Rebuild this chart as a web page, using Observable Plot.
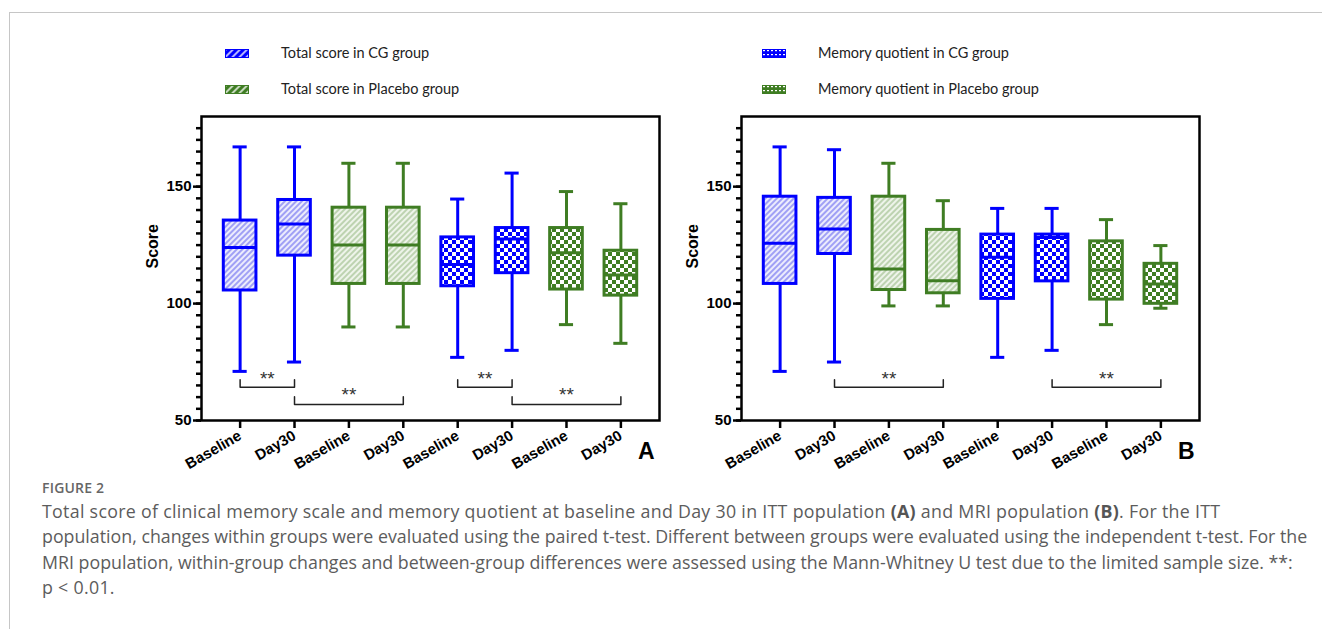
<!DOCTYPE html>
<html>
<head>
<meta charset="utf-8">
<script src="https://cdn.jsdelivr.net/npm/d3@7"></script>
<script src="https://cdn.jsdelivr.net/npm/@observablehq/plot@0.6"></script>
<style>
html, body { margin: 0; padding: 0; background: #fff; }
#page { position: relative; width: 1322px; height: 629px; overflow: hidden; background: #fff; }
#border { position: absolute; left: 9px; top: 12px; width: 1400px; height: 700px; border-left: 1px solid #c6c6c6; border-top: 1px solid #c6c6c6; }
.panel { position: absolute; top: 100px; }
.legend-item { position: absolute; white-space: nowrap; font-family: Lato, "Liberation Sans", sans-serif; font-size: 14.5px; color: #222; }
.legend-item svg { position: absolute; left: 0; top: 0; }
.legend-item span { position: absolute; left: 56px; top: -5px; }
#caption { position: absolute; left: 42px; top: 477px; font-family: "Open Sans", "Noto Sans", sans-serif; color: #5c5c5c; white-space: nowrap; }
#caption .fig { font-size: 14px; font-weight: 600; color: #666; letter-spacing: 0.2px; line-height: 21px; }
#caption .txt { font-size: 17.8px; line-height: 25.4px; margin-top: 1px; }
#caption .wide { letter-spacing: 0.3px; }
#caption b { font-weight: 700; color: #555; }
</style>
</head>
<body>
<div id="page">
  <div id="border"></div>
  <svg width="0" height="0" style="position:absolute">
    <defs>
      <pattern id="hatchCG" patternUnits="userSpaceOnUse" width="4" height="4" patternTransform="rotate(45)">
        <rect width="4" height="4" fill="#ececfd"></rect>
        <line x1="1" y1="0" x2="1" y2="4" stroke="#6d6df0" stroke-width="1.2"></line>
      </pattern>
      <pattern id="hatchPlacebo" patternUnits="userSpaceOnUse" width="4" height="4" patternTransform="rotate(45)">
        <rect width="4" height="4" fill="#eef4ea"></rect>
        <line x1="1" y1="0" x2="1" y2="4" stroke="#9dbd8a" stroke-width="1.2"></line>
      </pattern>
      <pattern id="checkCG" patternUnits="userSpaceOnUse" width="8" height="8">
        <rect width="8" height="8" fill="#ffffff"></rect>
        <rect x="0" y="0" width="4" height="4" fill="#0000ff"></rect>
        <rect x="4" y="4" width="4" height="4" fill="#0000ff"></rect>
      </pattern>
      <pattern id="checkPlacebo" patternUnits="userSpaceOnUse" width="8" height="8">
        <rect width="8" height="8" fill="#ffffff"></rect>
        <rect x="0" y="0" width="4" height="4" fill="#3f7d23"></rect>
        <rect x="4" y="4" width="4" height="4" fill="#3f7d23"></rect>
      </pattern>
      <pattern id="legHatchCG" patternUnits="userSpaceOnUse" width="5" height="5" patternTransform="rotate(45)">
        <rect width="5" height="5" fill="#0000ff"></rect>
        <line x1="1" y1="0" x2="1" y2="5" stroke="#ffffff" stroke-width="1.4"></line>
      </pattern>
      <pattern id="legHatchPlacebo" patternUnits="userSpaceOnUse" width="5" height="5" patternTransform="rotate(45)">
        <rect width="5" height="5" fill="#3f7d23"></rect>
        <line x1="1" y1="0" x2="1" y2="5" stroke="#ffffff" stroke-width="1.4"></line>
      </pattern>
      <pattern id="legCheckCG" patternUnits="userSpaceOnUse" width="4" height="4">
        <rect width="4" height="4" fill="#0000ff"></rect>
        <rect x="1" y="1" width="2" height="1.2" fill="#ffffff"></rect>
      </pattern>
      <pattern id="legCheckPlacebo" patternUnits="userSpaceOnUse" width="4" height="4">
        <rect width="4" height="4" fill="#3f7d23"></rect>
        <rect x="1" y="1" width="2" height="1.2" fill="#ffffff"></rect>
      </pattern>
    </defs>
  </svg>
  <div id="legendA1" class="legend-item" style="left:225px;top:49px;"></div>
  <div id="legendA2" class="legend-item" style="left:225px;top:85px;"></div>
  <div id="legendB1" class="legend-item" style="left:762px;top:49px;"></div>
  <div id="legendB2" class="legend-item" style="left:762px;top:85px;"></div>
  <div id="panelA" class="panel" style="left:0px;"></div>
  <div id="panelB" class="panel" style="left:540px;"></div>
  <div id="caption">
    <div class="fig">FIGURE 2</div>
    <div class="txt"><span class="wide">Total score of clinical memory scale and memory quotient at baseline and Day 30 in ITT population <b>(A)</b> and MRI population <b>(B)</b>. For the ITT</span><br>population, changes within groups were evaluated using the paired t-test. Different between groups were evaluated using the independent t-test. For the<br>MRI population, within-group changes and between-group differences were assessed using the Mann-Whitney U test due to the limited sample size. **:<br><span class="wide">p &lt; 0.01.</span></div>
  </div>
</div>
<script>
// ---- Data ----
const categories = ["Baseline", "Day30", "Baseline", "Day30", "Baseline", "Day30", "Baseline", "Day30"];
const groups = ["CG", "CG", "Placebo", "Placebo", "CG", "CG", "Placebo", "Placebo"];
const measures = ["Total", "Total", "Total", "Total", "MQ", "MQ", "MQ", "MQ"];

// Panel A: ITT population
const aMin    = [71, 75, 90, 90, 77, 80, 91, 83];
const aQ1     = [105.6, 120.5, 108.4, 108.4, 107.4, 113, 106, 103.4];
const aMedian = [124, 134, 125, 125, 116.7, 127.6, 121.7, 112.2];
const aQ3     = [135.5, 144.3, 141, 141, 128.3, 132.3, 132.3, 122.6];
const aMax    = [167, 167, 160, 160, 144.7, 155.8, 147.9, 142.7];

// Panel B: MRI population
const bMin    = [71, 75, 99, 99, 77, 80, 91, 98];
const bQ1     = [108.4, 121.2, 105.8, 104.4, 102, 109.5, 101.7, 99.9];
const bMedian = [125.8, 131.9, 114.8, 109.8, 119.8, 128.3, 114.4, 108.4];
const bQ3     = [145.7, 145.2, 145.7, 131.5, 129.5, 129.5, 126.6, 117];
const bMax    = [167, 165.8, 160, 144, 140.7, 140.7, 135.9, 124.8];

// Significance brackets (box indices)
const aBracketFrom = [0, 1, 4, 5];
const aBracketTo   = [1, 3, 5, 7];
const aBracketTier = [1, 2, 1, 2];
const bBracketFrom = [1, 5];
const bBracketTo   = [3, 7];
const bBracketTier = [1, 1];
const sigLabel = "**";

const yTicksMajor = [50, 100, 150];
const yTicksMinor = d3.range(50, 180, 5);

const legendA = ["Total score in CG group", "Total score in Placebo group"];
const legendB = ["Memory quotient in CG group", "Memory quotient in Placebo group"];

// ---- Styling ----
const BLUE = "#0000ff";
const GREEN = "#3f7d23";
const tiers = {1: {line: 64.2, tip: 67.4, text: 67.8}, 2: {line: 56.8, tip: 60.2, text: 60.8}};

function panel(st, bFrom, bTo, bTier, letter) {
  const boxes = d3.range(categories.length).map(i => ({
    i, min: st.min[i], q1: st.q1[i], med: st.med[i], q3: st.q3[i], max: st.max[i],
    stroke: groups[i] === "CG" ? BLUE : GREEN,
    fill: `url(#${measures[i] === "Total" ? "hatch" : "check"}${groups[i]})`
  }));
  const brackets = bFrom.map((f, k) => ({from: f, to: bTo[k], tier: bTier[k]}));
  const bracketPts = brackets.flatMap((b, k) => {
    const t = tiers[b.tier];
    return [{k, x: b.from, y: t.tip}, {k, x: b.from, y: t.line}, {k, x: b.to, y: t.line}, {k, x: b.to, y: t.tip}];
  });
  const hw = 0.3, cw = 0.13;
  const boxMarks = boxes.flatMap(b => [
    Plot.ruleX([b], {x: "i", y1: "min", y2: "q1", stroke: b.stroke, strokeWidth: 3}),
    Plot.ruleX([b], {x: "i", y1: "q3", y2: "max", stroke: b.stroke, strokeWidth: 3}),
    Plot.ruleY([b], {y: "min", x1: d => d.i - cw, x2: d => d.i + cw, stroke: b.stroke, strokeWidth: 3}),
    Plot.ruleY([b], {y: "max", x1: d => d.i - cw, x2: d => d.i + cw, stroke: b.stroke, strokeWidth: 3}),
    Plot.rectY([b], {x1: d => d.i - hw, x2: d => d.i + hw, y1: "q1", y2: "q3", fill: b.fill, stroke: b.stroke, strokeWidth: 3}),
    Plot.ruleY([b], {y: "med", x1: d => d.i - hw, x2: d => d.i + hw, stroke: b.stroke, strokeWidth: 3})
  ]);
  return Plot.plot({
    width: 680, height: 380,
    marginLeft: 201, marginRight: 21, marginTop: 16, marginBottom: 60,
    x: {type: "linear", domain: [-0.71, 7.71]},
    y: {domain: [50, 180]},
    style: {fontFamily: "'Liberation Sans', Arial, sans-serif", background: "transparent", overflow: "visible", color: "black"},
    marks: [
      ...boxMarks,
      Plot.line(bracketPts, {x: "x", y: "y", z: "k", stroke: "#222", strokeWidth: 1.5}),
      Plot.text(brackets, {x: b => (b.from + b.to) / 2, y: b => tiers[b.tier].text, text: () => sigLabel, fontSize: 19, fill: "#333"}),
      Plot.axisY({ticks: yTicksMinor, tickSize: 5, tickFormat: () => "", strokeWidth: 2.5, label: null}),
      Plot.axisY({ticks: yTicksMajor, tickSize: 8, tickPadding: 2, tickFormat: d => String(d), strokeWidth: 2.5, fontSize: 15, fontWeight: "bold", label: null}),
      Plot.axisX({ticks: d3.range(categories.length), tickFormat: i => categories[i], tickSize: 8, tickPadding: 6, tickRotate: -30, strokeWidth: 2.5, fontSize: 15, fontWeight: "bold", label: null}),
      Plot.frame({stroke: "black", strokeWidth: 2.5}),
      Plot.text(["Score"], {frameAnchor: "left", dx: -49, rotate: -90, text: d => d, fontSize: 16, fontWeight: "bold"}),
      Plot.text([letter], {frameAnchor: "bottom-right", dx: -5, dy: 38, text: d => d, fontSize: 23, fontWeight: "bold"})
    ]
  });
}

document.getElementById("panelA").append(
  panel({min: aMin, q1: aQ1, med: aMedian, q3: aQ3, max: aMax}, aBracketFrom, aBracketTo, aBracketTier, "A"));
document.getElementById("panelB").append(
  panel({min: bMin, q1: bQ1, med: bMedian, q3: bQ3, max: bMax}, bBracketFrom, bBracketTo, bBracketTier, "B"));

function legendItem(id, pattern, stroke, label) {
  const el = document.getElementById(id);
  el.innerHTML = `<svg width="24" height="10"><rect x="0.5" y="0.5" width="23" height="8" fill="url(#${pattern})" stroke="${stroke}" stroke-width="1"></rect></svg><span>${label}</span>`;
}
legendItem("legendA1", "legHatchCG", BLUE, legendA[0]);
legendItem("legendA2", "legHatchPlacebo", GREEN, legendA[1]);
legendItem("legendB1", "legCheckCG", BLUE, legendB[0]);
legendItem("legendB2", "legCheckPlacebo", GREEN, legendB[1]);
</script>
</body>
</html>
